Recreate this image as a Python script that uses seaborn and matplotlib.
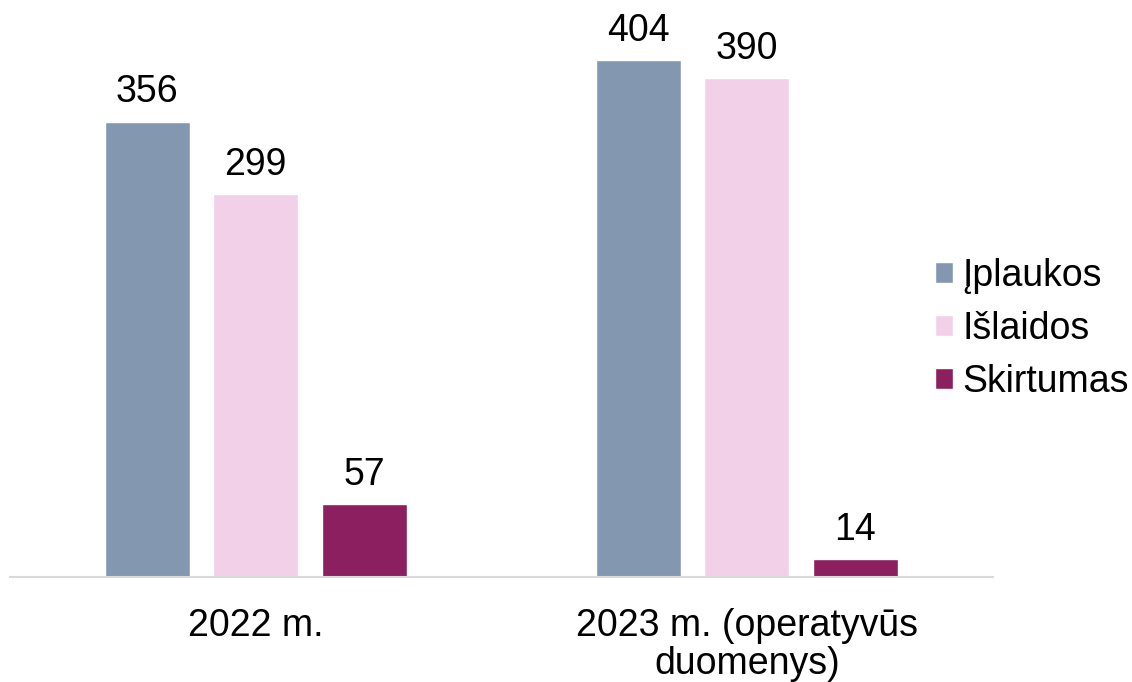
import pandas as pd
import matplotlib.pyplot as plt
import seaborn as sns

# duomenys (mln. Eur)
metai = ["2022 m.", "2023 m. (operatyvūs\nduomenys)"]
serijos = ["Įplaukos", "Išlaidos", "Skirtumas"]
iplaukos = [356, 404]
islaidos = [299, 390]
skirtumas = [57, 14]

spalvos = ["#8497B0", "#F2D1E8", "#8B1F5F"]

df = pd.DataFrame({
    "metai": metai * 3,
    "serija": [s for s in serijos for _ in metai],
    "reiksme": iplaukos + islaidos + skirtumas,
})

sns.set_style("white")
plt.rcParams["font.family"] = ["Liberation Sans", "DejaVu Sans"]
plt.rcParams["text.color"] = "black"
plt.rcParams["xtick.color"] = "black"

fs = 27

fig = plt.figure(figsize=(11.32, 6.82), dpi=100)
ax = fig.add_axes([0.0088, 0.154, 0.868, 0.846])

sns.barplot(data=df, x="metai", y="reiksme", hue="serija", hue_order=serijos,
            palette=spalvos, width=0.662, gap=0.216, saturation=1, ax=ax)

for cont in ax.containers:
    ax.bar_label(cont, fontsize=fs, padding=8, color="black")

ax.set_ylim(0, 451)
ax.set_xlim(-0.5, 1.5)
ax.set_xlabel("")
ax.set_ylabel("")
ax.set_yticks([])
for s in ["top", "left", "right"]:
    ax.spines[s].set_visible(False)
ax.spines["bottom"].set_color("#D9D9D9")
ax.spines["bottom"].set_linewidth(1.5)
ax.tick_params(axis="x", length=0, labelsize=fs, pad=22, labelcolor="black")
for t in ax.get_xticklabels():
    t.set_linespacing(1.1)

leg = ax.legend(loc="center left", bbox_to_anchor=(0.941, 0.43), frameon=False,
                fontsize=fs, handlelength=0.48, handleheight=0.48,
                handletextpad=0.27, labelspacing=0.45, borderpad=0,
                borderaxespad=0)

fig.savefig("out.png", dpi=100)
